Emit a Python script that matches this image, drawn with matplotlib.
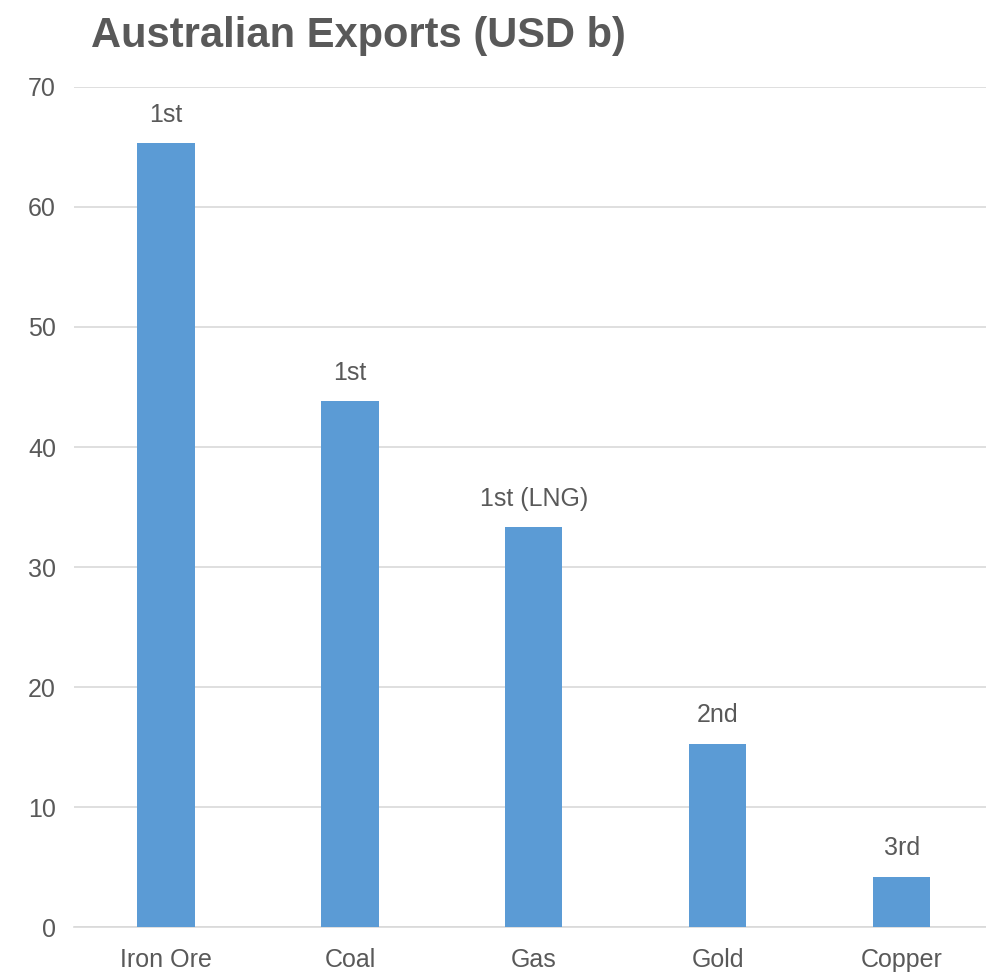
import matplotlib

matplotlib.use("Agg")
import matplotlib.pyplot as plt

# Data
categories = ["Iron Ore", "Coal", "Gas", "Gold", "Copper"]
exports_usd_b = [65.3, 43.8, 33.3, 15.3, 4.2]
rank_labels = ["1st", "1st", "1st (LNG)", "2nd", "3rd"]
y_ticks = [0, 10, 20, 30, 40, 50, 60, 70]

plt.rcParams["font.family"] = ["Liberation Sans", "DejaVu Sans"]

BAR_COLOR = "#5b9bd5"
TEXT_COLOR = "#595959"
GRID_COLOR = "#d9d9d9"

fig = plt.figure(figsize=(9.87, 9.76), dpi=100)
ax = fig.add_axes([0.075, 0.050, 0.932, 0.861])

x = range(len(categories))
bars = ax.bar(x, exports_usd_b, width=0.31, color=BAR_COLOR, zorder=3)

# rank label above each bar
for bar, lab in zip(bars, rank_labels):
    ax.annotate(
        lab,
        xy=(bar.get_x() + bar.get_width() / 2, bar.get_height()),
        xytext=(0, 12),
        textcoords="offset points",
        ha="center",
        va="bottom",
        fontsize=18,
        color=TEXT_COLOR,
    )

ax.set_xlim(-0.5, len(categories) - 0.5)
ax.set_ylim(0, 70)
ax.set_yticks(y_ticks)
ax.set_xticks(list(x))
ax.set_xticklabels(categories)
ax.tick_params(axis="both", length=0, labelsize=18, labelcolor=TEXT_COLOR)
ax.tick_params(axis="y", pad=13)
ax.tick_params(axis="x", pad=15)

ax.yaxis.grid(True, color=GRID_COLOR, linewidth=1.2, zorder=0)
for spine in ("top", "right", "left"):
    ax.spines[spine].set_visible(False)
ax.spines["bottom"].set_color(GRID_COLOR)
ax.spines["bottom"].set_linewidth(1.2)

fig.text(0.092, 0.963, "Australian Exports (USD b)", fontsize=30,
         fontweight="bold", color=TEXT_COLOR, ha="left", va="center")

fig.savefig("out.png", dpi=100)
